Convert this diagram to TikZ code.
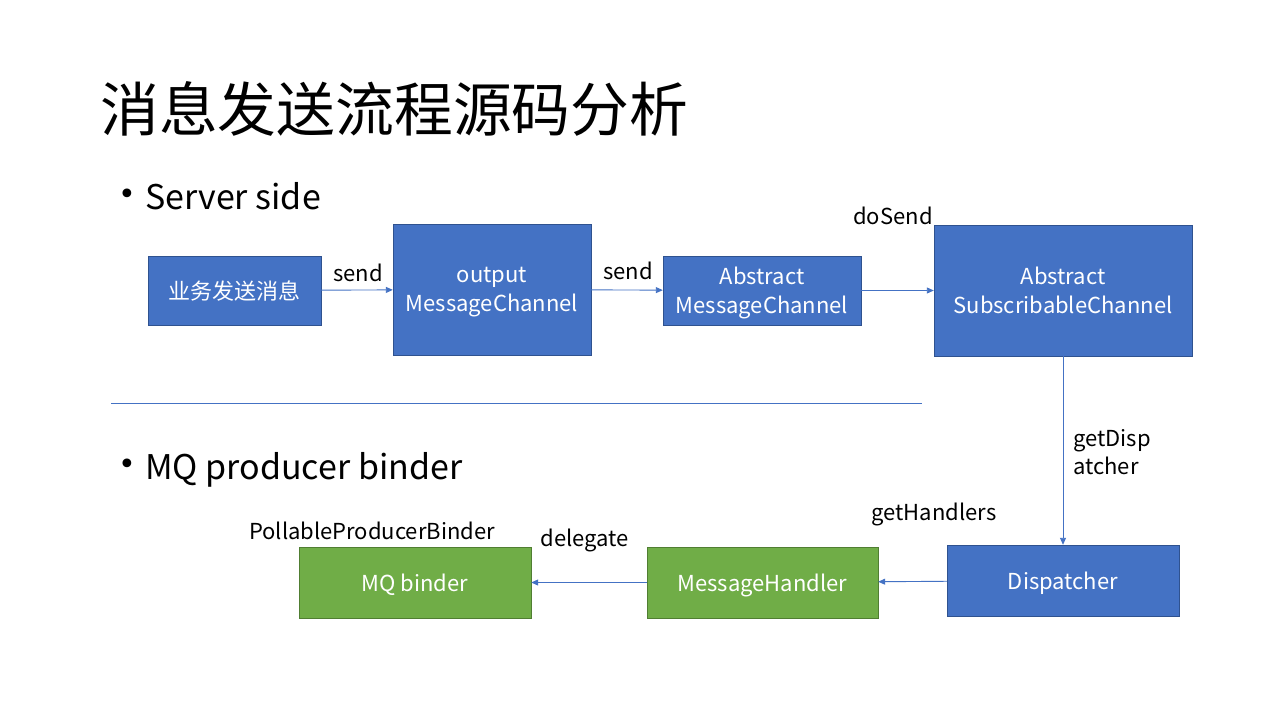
\documentclass[tikz,border=0pt]{standalone}
\usepackage{fontspec}
\setmainfont{Noto Sans CJK SC}
\newfontfamily\bulletfont{DejaVu Sans}
\usetikzlibrary{arrows.meta}
\definecolor{boxblue}{HTML}{4472C4}
\definecolor{boxblueline}{HTML}{2F528F}
\definecolor{boxgreen}{HTML}{70AD47}
\definecolor{boxgreenline}{HTML}{507E32}
\begin{document}
\begin{tikzpicture}[x=1pt,y=-1pt,
  bluebox/.style={draw=boxblueline,fill=boxblue,text=white,align=center,inner sep=0pt,
    text depth=0pt,font=\fontsize{22}{29}\selectfont},
  greenbox/.style={draw=boxgreenline,fill=boxgreen,text=white,align=center,inner sep=0pt,
    text depth=0pt,font=\fontsize{22}{29}\selectfont},
  flow/.style={draw=boxblue,line width=0.9pt,-{Triangle[length=7pt,width=6pt]}},
  lbl/.style={inner sep=0pt,font=\fontsize{22}{28}\selectfont},
  item/.style={inner sep=0pt,anchor=base west,font=\fontsize{34}{40}\selectfont},
  dot/.style={inner sep=0pt,font=\bulletfont\fontsize{30}{30}\selectfont}]
\useasboundingbox[fill=white] (0,0) rectangle (1280,720);
% title and bullets
\node[inner sep=0pt,anchor=base west,font=\fontsize{58.8}{64}\selectfont] (title) at (100,131) {消息发送流程源码分析};
\node[dot] (dot1) at (127,197) {•};
\node[item] (server) at (145,209) {Server side};
\node[dot] (dot2) at (127,467) {•};
\node[item] (mq) at (145,479) {MQ producer binder};
\coordinate (sepL) at (111,403);
\coordinate (sepR) at (922,403);
\draw[boxblue,line width=0.8pt] (sepL) -- (sepR);
% server side
\node[bluebox,minimum width=173pt,minimum height=69pt] (biz) at (234.5,290.5) {业务发送消息};
\node[bluebox,minimum width=198pt,minimum height=131pt] (output) at (492,289.5) {output\\MessageChannel};
\node[bluebox,minimum width=198pt,minimum height=69pt] (amc) at (762,290.5) {Abstract\\MessageChannel};
\node[bluebox,minimum width=258pt,minimum height=131pt] (asc) at (1063,290.5) {Abstract\\SubscribableChannel};
% binder side
\node[bluebox,minimum width=232pt,minimum height=71pt] (disp) at (1063,580.5) {Dispatcher};
\node[greenbox,minimum width=231pt,minimum height=71pt] (handler) at (762.5,582.5) {MessageHandler};
\node[greenbox,minimum width=232pt,minimum height=71pt] (binder) at (415,582.5) {MQ binder};
\draw[flow] (biz) -- (output);
\draw[flow] (output) -- (amc);
\draw[flow] (amc) -- (asc);
\draw[flow] (asc) -- (disp);
\draw[flow] (disp) -- (handler);
\draw[flow] (handler) -- (binder);
\node[lbl] (send1) at (358,273) {send};
\node[lbl] (send2) at (628,271) {send};
\node[lbl] (dosend) at (893,216) {doSend};
\node[lbl,anchor=west,align=left] (getdisp) at (1073,452) {getDisp\\atcher};
\node[lbl] (gethandlers) at (934,514) {getHandlers};
\node[lbl] (delegate) at (585,540) {delegate};
\node[lbl] (pollable) at (372,531) {PollableProducerBinder};
\end{tikzpicture}
\end{document}
